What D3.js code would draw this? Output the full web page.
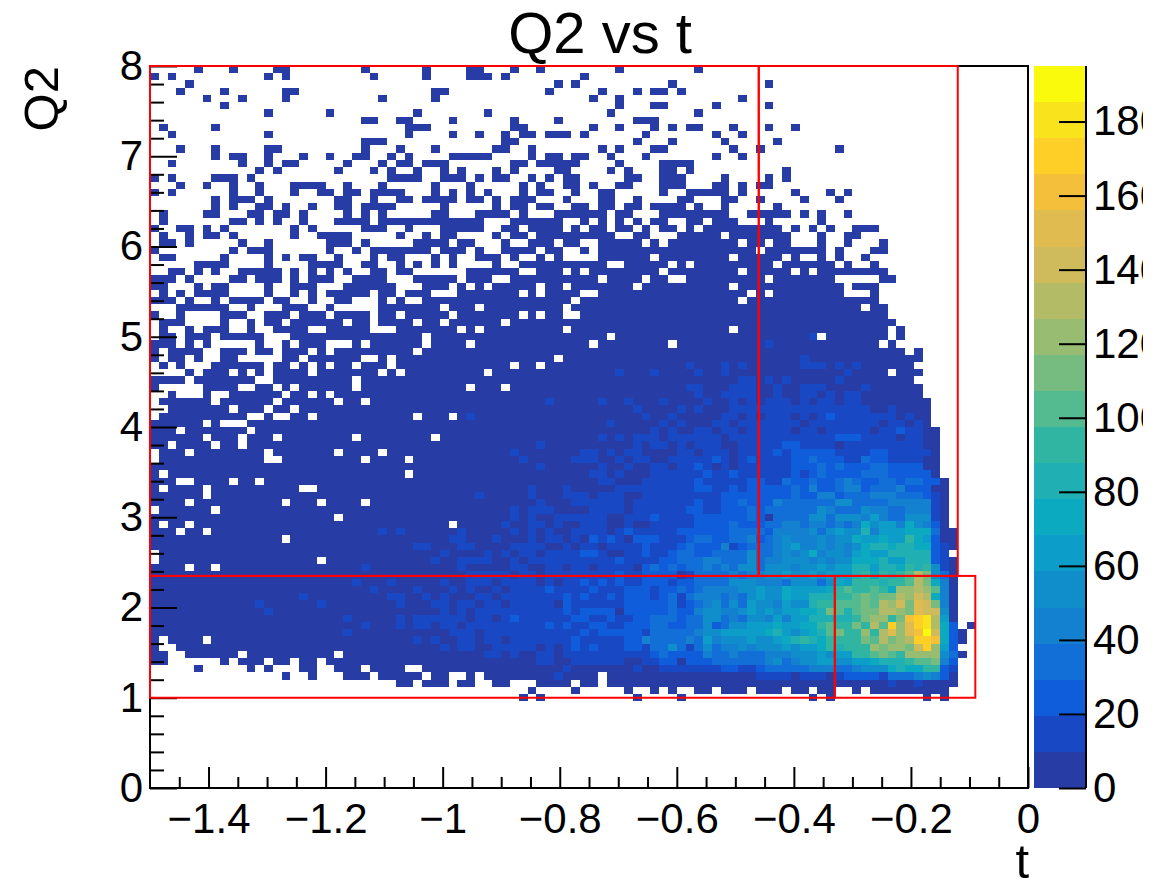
<!DOCTYPE html>
<html>
<head>
<meta charset="utf-8">
<script src="https://cdn.jsdelivr.net/npm/d3@7"></script>
<style>
  body { margin: 0; background: #fff; }
  text { font-family: "Liberation Sans", Arial, sans-serif; fill: #000; }
</style>
</head>
<body>
<div id="plot_area"></div>
<script>
// Axis limits and binning of the histogram
const tRange = [-1.5, 0];
const q2Range = [0, 8];
const tBins = 100;
const q2Bins = 100;
const zMax = 195;

const tMajorTicks = [-1.4, -1.2, -1, -0.8, -0.6, -0.4, -0.2, 0];
const tMinorTicks = [-1.45, -1.35, -1.3, -1.25, -1.15, -1.1, -1.05, -0.95, -0.9, -0.85, -0.75, -0.7, -0.65, -0.55, -0.5, -0.45, -0.35, -0.3, -0.25, -0.15, -0.1, -0.05];
const q2MajorTicks = [0, 1, 2, 3, 4, 5, 6, 7, 8];
const q2MinorTicks = [0.2, 0.4, 0.6, 0.8, 1.2, 1.4, 1.6, 1.8, 2.2, 2.4, 2.6, 2.8, 3.2, 3.4, 3.6, 3.8, 4.2, 4.4, 4.6, 4.8, 5.2, 5.4, 5.6, 5.8, 6.2, 6.4, 6.6, 6.8, 7.2, 7.4, 7.6, 7.8];
const zTicks = [0, 20, 40, 60, 80, 100, 120, 140, 160, 180];

// Colour bands of the palette, bottom to top
const palette = ['#283ca5', '#1848c4', '#0f5ddb', '#116fd7', '#1480d0', '#108ecb', '#0c9ec8', '#0caac0', '#20b0b4', '#30b5a2',
                 '#54ba90', '#76bb80', '#97bc72', '#b3bb66', '#cfbb5c', '#e0bb4f', '#f4bf3a', '#fdcf27', '#f8e31c', '#f9fa0c'];

// Red selection boxes: [t low, t high, Q2 low, Q2 high]
const boxes = [
  [-1.5, -0.46, 2.35, 8],
  [-0.46, -0.12, 2.35, 8],
  [-1.5, -0.33, 1, 2.35],
  [-0.33, -0.09, 1, 2.35]
];

// Histogram, top Q2 row first. One character per t bin:
// '.' is empty, otherwise the palette band in base 20. Spaces are only for counting.
const q2Rows = [
  ".....0...0 ....00.... ....0..... .0....00.. .0..0..... ...0...... ..0.......",
  "0.0....... ...0.0.... .....0.... .0....000. 0........0",
  "....0..... .......... .......... .......... ......0.0. .........0 .......... 0.........",
  "...0....0. .....00... .......... ..00...... .....0.... .0...0.00. 0.........",
  "......0... 0....0.... ......0... ..0....... .......... 0..0...... .......0..",
  "........0. .......... .......... .......... .......... ...0...00. ....0..... 0.........",
  ".......... ...0...... 0......... 0.......0. .......... ..0....... ..0.......",
  ".......... .......... ....00..00 ....0..... .0....0... .....000..",
  ".0.....0.. .......... .........0 00........ .00....... 0..0...0.0 .00...0... 0..0......",
  "..0....... ...0...... .........0 ....0..0.. 0.00.000.0 ......0... ....0..0..",
  ".......... .......... ....000... .......... 00........ .....0...0 .....0.... .0........",
  "...0...0.. ...00..... ....0...0. ..0......0 0..0...... .0.0...00. ......0..0 ........0.",
  ".......0.0 0..0...0.. 0..00..0.0 ....00000. ...0.00.00 ..0...0... ....0..0..",
  "..0....... 0..0.00... ..0...0.00 .000...... .00.00000. ...0....00 00........",
  ".......... ..0.0..... .0...0.0.. 0..0.0...0 .0....00.. ..0.0...00 .0........ ..0.......",
  "0.0....000 .0........ .......000 0..000.0.0 0..0.0.00. ....00..00 0....0.... 0.0.......",
  "...0..0..0 ..0...0000 ..0...0... ..0...0... ..0.0..00. 0..00...00 0...00.0.0 0.........",
  "0.0......0 ..0...0..0 0.00.0000. ..0.0.0.0. ..0.00..0. .00.....0. .00000.0.. ...0...0.0",
  ".......0.0 00.0...... .00..0..00 .0000.00.0 .000...0.. .00..0.... 00...00..0 ....0...0.",
  ".......0.0 ..00.0..0. .00.0000.. ...0.....0 .00.00..00 .00.00.000 0.0..0.... .0........",
  ".0....00.. .00.00.0.. ..0.0.0... ..00...000 0.0...0000 00.00...00 000000..00 000.0.0..0",
  ".0.......0 0.0.0..0.. .0000.0000 00000000.. .000000..0 .0.0.0.00. .00.000... 0.....0...",
  "0..00.0.0. ......0.0. ....000..0 ...00000.. 00.0000.0. 00.00.0.00 .0.0000000 00.0.0.0.. 000.......",
  ".0..0.00.0 ......0..0 000.....0. .0.00....0 .00.000000 000..00... 00000.0000 000...0..0 0.........",
  ".00.0..... 0..0...... 000.0..... 0000.00... 0..000.00. .00000.0.0 0000000.00 .00...0..0 ...0......",
  "0........0 .000...... 0..0.00000 00.000.0.. 0000.00..0 .000000000 000000000. 0000000.0. ..00......",
  ".00.....0. ...0.0.00. .0...0.00. ..0.0..000 .0..0.0... .000000.00 000000.000 00.0..0.0. .0........",
  ".....0000. ...0....00 00..00..0. 0.0.0....0 ..00000000 00..00000. 0.00000000 0.000000.0 ..0.......",
  "..00.0.0.. 00000.0.0. 0.0..00.00 ......0000 00..000.0. 00000000.0 0000000.00 000.0.0000 0000......",
  "000.0....0 0.000.0.00 0..0000... 00000.000. .000000000 0.0000.00. .000000000 .0000000.. ...00.....",
  "00...0.00. ...0..000. ..000000.. .000.0.0.0 0000.00.00 00000.0000 000000.000 000000000. 000.......",
  ".0.0.0000. ...0..0.0. 00000.00.0 00...00000 00.0.0000. .000000000 00000000.0 .00000000. ..0.......",
  "000.0..0.0 000.00..0. .00...0.0. .000000000 00000000.0 0000000000 0000000.00 0000000000 000.......",
  "...000000. .0...000.. 0.....0000 000.000.00 0000000.00 0000000000 0000000000 0000000000 0.00......",
  "0..0....00 0..000.000 .0000.00.0 0000.00000 00.0.00..0 0000000000 0000000000 0000000000 0000......",
  ".000....0. .0.00.0000 00.00.0000 .00.000000 .000000000 0000000000 0000000000 0000000000 00000.....",
  ".0..0.000. .0..0000.. 00000...00 00000.0.00 0000000.00 0000000000 000000.000 0000000000 0000.0....",
  ".00.000.00 000...0000 0000000000 0.00000000 0000000000 00.0000000 0000000000 000001.000 0000.0....",
  "000.0.0... ..0..0.000 ...0.00000 0.0000.000 0000000000 .00000000. 0000000000 1000000000 000.0.....",
  "0.0000..00 0.00.000.0 .000000000 .000000000 0000000000 0000000000 0000000000 0000000000 000000.0..",
  "0.00.0..00 .....00.00 0000..0.00 0000000000 000000.000 0000000000 0000000000 0000100000 00000000..",
  ".0.0...000 000.00.0.0 .00.000.00 0000000000 0.00.00000 0000000000 0100010100 0000111010 1000000...",
  "....0.000. 0.0.0000.0 000000.0.0 00000000.0 0000000000 0001000100 0010010000 0000000001 0000.000..",
  "0000.00000 00..000000 000.000000 0000000000 0000000000 0000000000 0000000110 1010000010 0000000...",
  "0.....0000 ..00.0.000 000.000000 000000.000 .000000000 0000000000 0110001110 0100111000 01000000..",
  "..0...0..0 00000.00.0 .000000000 0000000000 0000000000 0000000000 0010011110 0100110101 10000000..",
  ".000000.00 0000.00000 0.00.00000 0000000000 0000010000 0100100010 0001001010 1110101101 100000000.",
  "..0000000. 000.00.000 0000000000 0000000000 0000000000 0000010000 1010001111 1111111111 110010000.",
  ".000000000 0..0..00.0 0000000000 .000.01000 0000000000 0000001001 0000011010 1110101211 111110100.",
  "000000.0.. .000000000 0000000000 0000000000 0000000000 0010000010 1000110111 1111011111 111011010.",
  "000.000000 0.00000000 0000000000 0000000000 0000000000 0000000101 0011011011 1110110111 1101121100",
  "000000.000 .000.00000 000.000000 00.0000000 0000000000 0101011101 1111101111 1111111122 2111101100",
  "00.0000.00 .000000000 0000000000 0000000000 0000100000 0000010110 1011100111 1122111101 1111111100",
  ".000.00000 000.000000 0.0000.000 0000000000 0100000001 1010110000 1101110111 1212222211 1122111110",
  ".000000000 000..00000 0000.0000. 0000000000 0010000011 1001011001 1111210121 1112232221 1322111100",
  "0000000000 0000000000 0000000000 0000000000 0000100000 0100100110 1121010111 1112223232 2233222200",
  "0.00000000 0000000000 000000000. 0000000000 0000000000 1101000111 1112112111 1112123222 2333222220",
  "000..0000. 00.0000000 0000000000 0000000000 0000000000 0110001111 1121111122 1132232234 3223323322 0.........",
  "0.0000.000 0000000..0 0000000000 0000000000 0001000100 0001111111 1122112122 2223242234 4233342220 0.........",
  "000000.000 0000000000 0000000000 0000000100 0001000111 0111001111 1111122222 2223224423 3344433321 0.........",
  "0000.00000 00000.000. 0000.00000 0000000000 0000100011 1111011111 1121122322 2433333355 3333444441 0.........",
  ".000000.00 0000000000 0000000000 0000000000 0101110000 1111011111 1221122232 3333335433 3544334441 0.........",
  "0000000000 0000000000 0.00000000 0000000000 0101001111 1100111211 1122222232 0333355355 5464335551 0.........",
  "0.00.00000 0000000000 0000000000 0000.00000 1001101001 1100100111 1122223222 3344344343 4756647542 0.........",
  "000.00.000 0000000000 0000001010 0000010000 0101010011 1101211111 2222223333 2444453565 5846667773 00........",
  "0000000000 00000.0000 0000000000 0000110001 0001011010 2121022211 1233223342 3454445455 7667669762 00........",
  "0000000000 0000000000 0000000000 1100011000 0111100101 1011112111 2322241233 3456445454 5788788772 10........",
  ".000000000 0000000000 0000000000 0001000010 1011011112 2100112112 3322333353 3454574554 6766888882 1.........",
  ".000000000 000000000. 0000000000 0010011110 0101111111 1112111122 3334433353 4455545455 7778668882 10........",
  "0000.00.00 0000000000 0000100000 0000010000 0110011011 0111102323 2334343553 5554556566 8868879895 10........",
  "0000000000 0000000000 0000000000 0000001111 1011011111 1112112222 0133334344 5565565666 897989adb5 30........",
  "0000000000 0000000000 0001000100 0001001110 1111010112 1212112221 2233335554 4435553576 999899adb7 40........",
  "0000000000 0000000000 0000010000 1000101001 0111121111 2111222122 3234444556 557666679a 99a97ccdca 40........",
  "0000000000 0000000100 0000000110 0101000110 1111111212 1121222123 1344434356 5576688899 ababbdced7 40........",
  "0000000000 0010000001 0000000010 0011011011 0111110211 1111222223 1234535365 54655899aa abadcebfeb 40........",
  "0000000000 0001000000 0000000000 0001010111 1111111212 2220222223 2245544565 6566778ba8 abbddcbfee 50........",
  "0000000000 0000000000 0010000010 1111110110 1211111122 1121122333 2335534355 4646688888 9bcc9bghid 60........",
  "0000000000 0000000000 0000100010 1101101111 1111121211 2211222332 2335235566 6766779a99 b9dahcfhid 72.0......",
  "0000000000 0000000000 0010000000 0000111011 1111111112 1222221333 3345566666 7865678ab9 9c9dfcfgje 720.......",
  "0.0000.000 0000000000 0000000000 1010011011 0111111121 1111224333 3436455565 5678987999 9badbcdhhg 720.......",
  "0..0000000 0000000000 0000000000 0001011001 1111010121 2111221335 3135344545 5565667989 99cbccbehc 62........",
  "00..000000 .000000000 0.00000000 0000000011 0100110111 1111111232 2224334333 4445556566 99aba9cccc 530.......",
  "00......0. 000.00.00. 0000000000 0000000000 0000110011 1111001122 0222333333 4534556655 6678889aab 42........",
  ".....0.... .0.0...00. .000.0000. .000000000 0000000100 0000010011 1111122112 3333344433 4555787799 21........",
  ".......... .....0..0. ..000.0000 0.00..0.00 0000001000 0.00000000 0000000001 1110111012 2221333454 20........",
  ".......... .......... ........00 .000.00..0 0...0000.0 0.00000000 0000000000 0000000000 0000100100 00........",
  ".......... .......... .......... .......... ...0....0. ....0..0.0 ..00.000.0 00.00.00.. 0.00000000 0.........",
  ".......... .......... .......... .......... ..0.0..... .....0.... 0......... .....0.0.. ........0. 0........."
];

const w = 1165;
const h = 880;

const xScale = d3.scaleLinear().domain(tRange).range([150, 1028]);
const yScale = d3.scaleLinear().domain(q2Range).range([788, 66]);
const zScale = d3.scaleLinear().domain([0, zMax]).range([788, 66]);
const colorScale = d3.scaleQuantize().domain([0, zMax]).range(palette);

const tStep = (tRange[1] - tRange[0]) / tBins;
const q2Step = (q2Range[1] - q2Range[0]) / q2Bins;
const zStep = zMax / palette.length;

// Turn the row strings into one record per filled bin
let cells = [];
q2Rows.forEach(function (row, r) {
  row.replace(/ /g, '').split('').forEach(function (ch, c) {
    if (ch !== '.') {
      cells.push({
        t: tRange[0] + c * tStep,
        q2: q2Range[1] - r * q2Step,
        z: (parseInt(ch, 20) + 0.5) * zStep
      });
    }
  });
});

const svg = d3.select('#plot_area')
  .append('svg')
  .attr('width', w)
  .attr('height', h)
  .style('display', 'block');

// Histogram cells
svg.append('g')
  .attr('shape-rendering', 'crispEdges')
  .selectAll('rect')
  .data(cells)
  .join('rect')
  .attr('x', (d) => xScale(d.t))
  .attr('y', (d) => yScale(d.q2))
  .attr('width', xScale(tStep) - xScale(0))
  .attr('height', yScale(0) - yScale(q2Step))
  .attr('fill', (d) => colorScale(d.z));

// Frame
svg.append('rect')
  .attr('x', xScale(tRange[0]))
  .attr('y', yScale(q2Range[1]))
  .attr('width', xScale(tRange[1]) - xScale(tRange[0]))
  .attr('height', yScale(q2Range[0]) - yScale(q2Range[1]))
  .attr('fill', 'none')
  .attr('stroke', 'black')
  .attr('stroke-width', 2);

function styleAxis(g, fontSize) {
  g.select('.domain').remove();
  g.selectAll('line').attr('stroke', 'black').attr('stroke-width', 2);
  g.selectAll('text').style('font-size', fontSize + 'px').attr('fill', 'black');
}

// x axis: ticks point into the plot
svg.append('g')
  .attr('transform', 'translate(0,788)')
  .call(d3.axisBottom(xScale).tickValues(tMinorTicks).tickSize(-11).tickFormat(''))
  .call(styleAxis, 42);
svg.append('g')
  .attr('transform', 'translate(0,788)')
  .call(d3.axisBottom(xScale).tickValues(tMajorTicks).tickSize(-21).tickPadding(15)
    .tickFormat((d) => d3.format('')(d).replace('-', '\u2212')))
  .call(styleAxis, 42);

// y axis
svg.append('g')
  .attr('transform', 'translate(150,0)')
  .call(d3.axisLeft(yScale).tickValues(q2MinorTicks).tickSize(-14).tickFormat(''))
  .call(styleAxis, 42);
svg.append('g')
  .attr('transform', 'translate(150,0)')
  .call(d3.axisLeft(yScale).tickValues(q2MajorTicks).tickSize(-27).tickPadding(7))
  .call(styleAxis, 42);

// Red selection boxes
svg.append('g')
  .selectAll('rect')
  .data(boxes)
  .join('rect')
  .attr('x', (d) => xScale(d[0]))
  .attr('y', (d) => yScale(d[3]))
  .attr('width', (d) => xScale(d[1]) - xScale(d[0]))
  .attr('height', (d) => yScale(d[2]) - yScale(d[3]))
  .attr('fill', 'none')
  .attr('stroke', '#ff0000')
  .attr('stroke-width', 2);

// Colour bar
svg.append('g')
  .attr('shape-rendering', 'crispEdges')
  .selectAll('rect')
  .data(palette)
  .join('rect')
  .attr('x', 1034)
  .attr('y', (d, i) => zScale((i + 1) * zStep))
  .attr('width', 52)
  .attr('height', zScale(0) - zScale(zStep))
  .attr('fill', (d) => d);

// The labels of the colour bar run off the canvas in the original
svg.append('clipPath')
  .attr('id', 'bar_clip')
  .append('rect')
  .attr('x', 0)
  .attr('y', 0)
  .attr('width', 1143)
  .attr('height', h);

svg.append('g')
  .attr('clip-path', 'url(#bar_clip)')
  .append('g')
  .attr('transform', 'translate(1086,0)')
  .call(d3.axisRight(zScale).tickValues(zTicks).tickSize(-27).tickPadding(7))
  .call(styleAxis, 42)
  .call((g) => g.append('line')
    .attr('y1', zScale(zMax))
    .attr('y2', zScale(0))
    .attr('stroke', 'black')
    .attr('stroke-width', 2));

// Title and axis titles
svg.append('text')
  .attr('x', 600)
  .attr('y', 53)
  .attr('text-anchor', 'middle')
  .style('font-size', '58px')
  .text('Q2 vs t');

svg.append('text')
  .attr('x', 1029)
  .attr('y', 878)
  .attr('text-anchor', 'end')
  .style('font-size', '49px')
  .text('t');

svg.append('text')
  .attr('transform', 'translate(58,66) rotate(-90)')
  .attr('text-anchor', 'end')
  .style('font-size', '49px')
  .text('Q2');
</script>
</body>
</html>
